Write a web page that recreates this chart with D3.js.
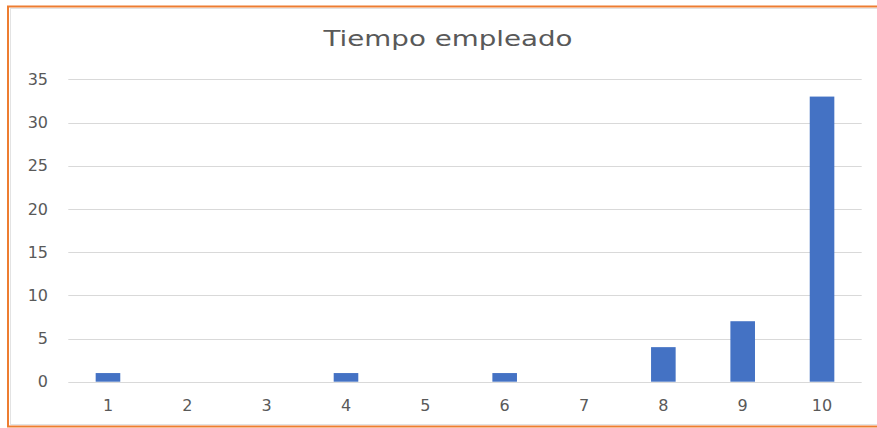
<!DOCTYPE html>
<html>
<head>
<meta charset="utf-8">
<script src="https://cdn.jsdelivr.net/npm/d3@7"></script>
<style>
  html, body { margin: 0; padding: 0; background: #fff; }
  svg { display: block; }
</style>
</head>
<body>
<svg id="chart" width="877" height="428"></svg>
<script>
// Chart data
const categories = ["1", "2", "3", "4", "5", "6", "7", "8", "9", "10"];
const values = [1, 0, 0, 1, 0, 1, 0, 4, 7, 33];
const yTicks = [0, 5, 10, 15, 20, 25, 30, 35];
const title = "Tiempo empleado";

const svg = d3.select("#chart");
const W = 877, H = 428;
const font = "'DejaVu Sans', Verdana, sans-serif";
const textColor = "#595959";

// Frame: orange outline with a faint inner border
svg.append("rect").attr("x", 0).attr("y", 0).attr("width", W).attr("height", H).attr("fill", "#fff");
svg.append("rect")
  .attr("x", 10.5).attr("y", 8.5).attr("width", W).attr("height", H - 12)
  .attr("fill", "none").attr("stroke", "#e3e3e3").attr("stroke-width", 1);
svg.append("path")
  .attr("d", `M${W + 2},6.5 H8 V426.5 H${W + 2}`)
  .attr("fill", "none").attr("stroke", "#ED7D31").attr("stroke-width", 2);

const plot = { left: 68.3, right: 861.7, top: 79.3, bottom: 381.7 };

const x = d3.scaleBand()
  .domain(categories)
  .range([plot.left, plot.right])
  .paddingInner(0.69)
  .paddingOuter(0.345);

const y = d3.scaleLinear()
  .domain([0, 35])
  .range([plot.bottom, plot.top]);

// Gridlines
svg.append("g")
  .selectAll("line")
  .data(yTicks)
  .join("line")
  .attr("x1", plot.left).attr("x2", plot.right)
  .attr("y1", d => Math.round(y(d)) + 0.5).attr("y2", d => Math.round(y(d)) + 0.5)
  .attr("stroke", "#d9d9d9").attr("stroke-width", 1);

// Y axis labels
const yAxis = d3.axisLeft(y).tickValues(yTicks).tickSize(0).tickPadding(0);
const gy = svg.append("g").attr("transform", `translate(48,0)`).call(yAxis);
gy.select(".domain").remove();
gy.selectAll("text")
  .attr("fill", textColor)
  .style("font-family", font)
  .style("font-size", "16px");

// Bars
svg.append("g")
  .selectAll("rect")
  .data(values)
  .join("rect")
  .attr("x", (d, i) => x(categories[i]))
  .attr("width", x.bandwidth())
  .attr("y", d => y(d))
  .attr("height", d => y(0) - y(d))
  .attr("fill", "#4472C4");

// X axis labels
const xAxis = d3.axisBottom(x).tickSize(0).tickPadding(0);
const gx = svg.append("g").attr("transform", `translate(0,399.5)`).call(xAxis);
gx.select(".domain").remove();
gx.selectAll("text")
  .attr("fill", textColor)
  .style("font-family", font)
  .style("font-size", "16px");

// Title, slightly widened
svg.append("text")
  .attr("transform", "translate(448,46) scale(1.32,1)")
  .attr("text-anchor", "middle")
  .attr("fill", textColor)
  .style("font-family", font)
  .style("font-size", "21px")
  .text(title);
</script>
</body>
</html>
